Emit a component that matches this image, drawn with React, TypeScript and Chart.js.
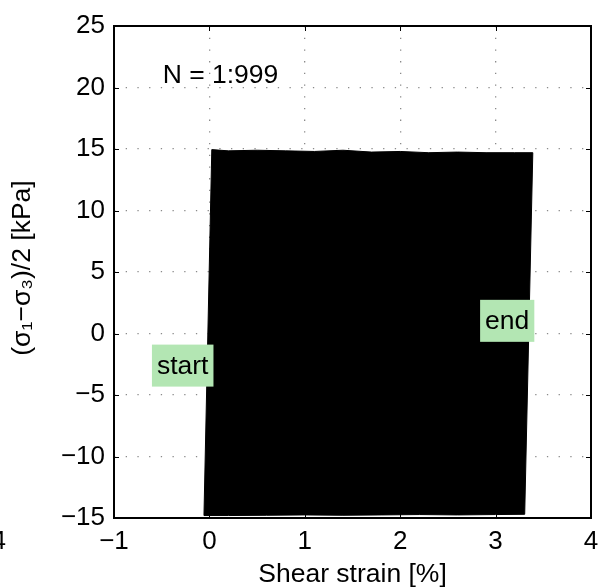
import React, { useEffect, useRef } from "react";
import { Chart, registerables } from "chart.js";

Chart.register(...registerables);

// Envelope of the 999 load cycles (shear strain [%], (σ1−σ3)/2 [kPa])
const topStrain = [0.025, 0.2, 0.5, 0.8, 1.1, 1.4, 1.7, 2.0, 2.3, 2.6, 2.9, 3.2, 3.39];
const topStress = [14.95, 14.85, 14.9, 14.85, 14.8, 14.9, 14.75, 14.8, 14.7, 14.75, 14.7, 14.7, 14.7];
const bottomStrain = [3.305, 3.0, 2.6, 2.2, 1.8, 1.4, 1.0, 0.6, 0.2, -0.057];
const bottomStress = [-14.7, -14.72, -14.75, -14.72, -14.75, -14.78, -14.75, -14.78, -14.8, -14.8];

const xTicks = [-1, 0, 1, 2, 3, 4];
const yTicks = [-15, -10, -5, 0, 5, 10, 15, 20, 25];

const xTitle = "Shear strain [%]";
const yTitle = "(σ₁−σ₃)/2 [kPa]";

const FONT = "'Liberation Sans', Arial, Helvetica, sans-serif";
const TICK_SIZE = 26;
const TEXT_SIZE = 26.5;
const GREEN = "rgb(179,230,179)";
const DOTS = [1.3, 10.4];

const fmt = (v: number) => (v < 0 ? "\u2212" + Math.abs(v) : String(v));

export default function App() {
  const ref = useRef<HTMLCanvasElement | null>(null);

  useEffect(() => {
    if (!ref.current) return;
    const pts: { x: number; y: number }[] = [];
    topStrain.forEach((x, i) => pts.push({ x, y: topStress[i] }));
    bottomStrain.forEach((x, i) => pts.push({ x, y: bottomStress[i] }));
    pts.push({ x: topStrain[0], y: topStress[0] });

    const decor = {
      id: "decor",
      afterDraw(chart: any) {
        const ctx = chart.ctx as CanvasRenderingContext2D;
        const { left, right, top, bottom } = chart.chartArea;
        const xs = chart.scales.x;
        const ys = chart.scales.y;
        ctx.save();
        // inward ticks
        ctx.strokeStyle = "#000";
        ctx.lineWidth = 1;
        const tl = 5;
        xTicks.forEach((t) => {
          const px = Math.round(xs.getPixelForValue(t)) + 0.5;
          ctx.beginPath();
          ctx.moveTo(px, bottom);
          ctx.lineTo(px, bottom - tl);
          ctx.moveTo(px, top);
          ctx.lineTo(px, top + tl);
          ctx.stroke();
        });
        yTicks.forEach((t) => {
          const py = Math.round(ys.getPixelForValue(t)) + 0.5;
          ctx.beginPath();
          ctx.moveTo(left, py);
          ctx.lineTo(left + tl, py);
          ctx.moveTo(right, py);
          ctx.lineTo(right - tl, py);
          ctx.stroke();
        });
        // box
        ctx.lineWidth = 2;
        ctx.strokeRect(left, top, right - left, bottom - top);

        // annotations
        ctx.font = `${TEXT_SIZE}px ${FONT}`;
        ctx.textBaseline = "middle";
        ctx.textAlign = "left";
        const label = (text: string, x: number, y: number, bg: boolean) => {
          const px = xs.getPixelForValue(x);
          const py = ys.getPixelForValue(y);
          const w = ctx.measureText(text).width;
          if (bg) {
            ctx.fillStyle = GREEN;
            ctx.fillRect(px - 5, py - 21, w + 10, 42);
          }
          ctx.fillStyle = "#000";
          ctx.fillText(text, px, py + 1);
        };
        label("N = 1:999", -0.49, 21.03, false);
        label("start", -0.55, -2.61, true);
        label("end", 2.89, 1.03, true);

        // axis titles
        ctx.textAlign = "center";
        ctx.fillText(xTitle, (left + right) / 2, 575);
        ctx.save();
        ctx.translate(23, (top + bottom) / 2 - 4);
        ctx.rotate(-Math.PI / 2);
        ctx.fillText(yTitle, 0, 0);
        ctx.restore();

        // clipped tick label from neighbouring panel
        ctx.font = `${TICK_SIZE}px ${FONT}`;
        ctx.textAlign = "right";
        ctx.fillText("4", 6, 542);
        ctx.restore();
      },
    };

    const chart = new Chart(ref.current, {
      type: "scatter",
      plugins: [decor],
      data: {
        datasets: [
          {
            data: pts,
            showLine: true,
            fill: "shape",
            backgroundColor: "#000",
            borderColor: "#000",
            borderWidth: 1,
            pointRadius: 0,
            tension: 0,
          } as any,
        ],
      },
      options: {
        animation: false,
        responsive: false,
        maintainAspectRatio: false,
        events: [],
        layout: { padding: { left: 0, top: 26, right: 10, bottom: 0 } },
        plugins: { legend: { display: false }, tooltip: { enabled: false } },
        scales: {
          x: {
            type: "linear",
            min: -1,
            max: 4,
            afterFit: (s: any) => {
              s.height = 69;
              s.paddingLeft = 0;
              s.paddingRight = 0;
            },
            afterBuildTicks: (s: any) => {
              s.ticks = xTicks.map((v) => ({ value: v }));
            },
            border: { display: false, dash: DOTS },
            grid: {
              color: "#8a8a8a",
              lineWidth: 1.3,
              drawTicks: false,
            },
            ticks: {
              color: "#000",
              padding: 8,
              maxRotation: 0,
              font: { family: FONT, size: TICK_SIZE },
              callback: (v: any) => fmt(Number(v)),
            },
          },
          y: {
            type: "linear",
            min: -15,
            max: 25,
            afterFit: (s: any) => {
              s.width = 114;
              s.paddingTop = 0;
              s.paddingBottom = 0;
            },
            afterBuildTicks: (s: any) => {
              s.ticks = yTicks.map((v) => ({ value: v }));
            },
            border: { display: false, dash: DOTS },
            grid: {
              color: "#8a8a8a",
              lineWidth: 1.3,
              drawTicks: false,
            },
            ticks: {
              color: "#000",
              padding: 9,
              font: { family: FONT, size: TICK_SIZE },
              callback: (v: any) => fmt(Number(v)),
            },
          },
        },
      } as any,
    });
    return () => chart.destroy();
  }, []);

  return (
    <div style={{ position: "fixed", left: 0, top: 0, width: 601, height: 587, background: "#fff" }}>
      <canvas ref={ref} width={601} height={587} style={{ width: 601, height: 587 }} />
    </div>
  );
}
